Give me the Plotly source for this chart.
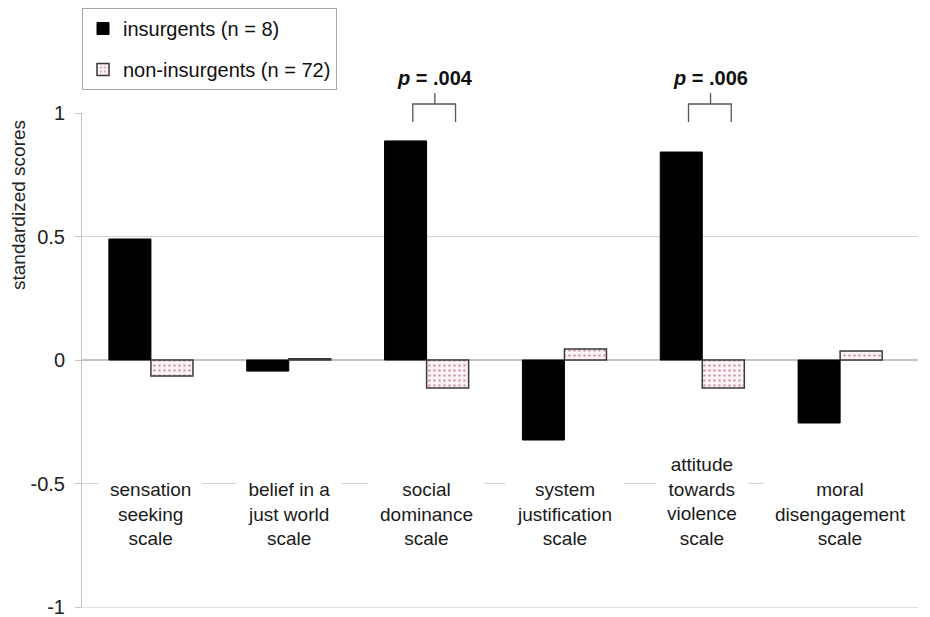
import plotly.graph_objects as go

categories = [
    "sensation<br>seeking<br>scale",
    "belief in a<br>just world<br>scale",
    "social<br>dominance<br>scale",
    "system<br>justification<br>scale",
    "attitude<br>towards<br>violence<br>scale",
    "moral<br>disengagement<br>scale",
]
insurgents = [0.49, -0.045, 0.887, -0.324, 0.842, -0.255]
non_insurgents = [-0.065, 0.005, -0.113, 0.045, -0.113, 0.036]
series_names = ["insurgents (n = 8)", "non-insurgents (n = 72)"]
p_labels = {2: ".004", 4: ".006"}
yticks = [-1, -0.5, 0, 0.5, 1]
ytick_text = ["-1", "-0.5", "0", "0.5", "1"]

FONT = "Liberation Sans, Arial, sans-serif"
x_idx = list(range(len(categories)))
n = len(categories)
XR = [-0.5, n - 0.5 + 0.065]

# page body has an 8px margin, so the figure is drawn 8px in from the window edge
W, H = 922, 609
ML, MR, MT, MB = 74, 12, 105, 10
PW = W - ML - MR   # 836
PH = H - MT - MB   # 494


def xpaper(v):
    return (v - XR[0]) / (XR[1] - XR[0])


def ypx(py):
    """screen pixel row (in the 930x617 window) -> paper y"""
    return (H - MB - (py - 8)) / PH


def xpx(px):
    return (px - 8 - ML) / PW


fig = go.Figure()
fig.add_trace(go.Bar(
    x=x_idx, y=insurgents, name=series_names[0], legendgroup="a",
    marker=dict(color="#000000", line=dict(color="#000000", width=1)),
))
fig.add_trace(go.Bar(
    x=x_idx, y=non_insurgents, name=series_names[1], legendgroup="b",
    marker=dict(color="#fdf3f6", line=dict(color="#3a3a3a", width=1.5),
                pattern=dict(shape=".", fgcolor="#a0506e", bgcolor="#fdf3f6",
                             size=5, solidity=0.22)),
))

# category labels
for i, lab in enumerate(categories):
    fig.add_annotation(
        x=i, y=-0.814, xref="x", yref="y", text=lab, showarrow=False,
        yanchor="bottom", xanchor="center", align="center",
        font=dict(family=FONT, size=19, color="#1a1a1a"),
        bgcolor="white", borderpad=11,
    )

# significance brackets
for i, p in p_labels.items():
    xl, xr, xs = xpaper(i - 0.10), xpaper(i + 0.21), xpaper(i + 0.06)
    yb, yt, ys = ypx(122), ypx(104), ypx(93)
    fig.add_shape(type="path", xref="paper", yref="paper",
                  path=f"M {xl} {yb} L {xl} {yt} L {xr} {yt} L {xr} {yb}",
                  line=dict(color="#555555", width=1.3))
    fig.add_shape(type="line", xref="paper", yref="paper",
                  x0=xs, x1=xs, y0=yt, y1=ys,
                  line=dict(color="#555555", width=1.3))
    fig.add_annotation(x=xs, y=ypx(78), xref="paper", yref="paper",
                       text=f"<b><i>p</i> = {p}</b>", showarrow=False,
                       xanchor="center", yanchor="middle",
                       font=dict(family=FONT, size=20, color="#111111"))

# y-axis title
fig.add_annotation(x=xpx(18), y=ypx(205), xref="paper", yref="paper",
                   text="standardized scores", textangle=-90, showarrow=False,
                   xanchor="center", yanchor="middle",
                   font=dict(family=FONT, size=19, color="#222222"))

fig.update_layout(
    width=W, height=H,
    margin=dict(l=ML, r=MR, t=MT, b=MB, autoexpand=False),
    plot_bgcolor="white", paper_bgcolor="white",
    barmode="group", bargap=0.39, bargroupgap=0,
    font=dict(family=FONT, size=20, color="#222222"),
    showlegend=True,
    legend=dict(x=xpx(82), y=ypx(8), xanchor="left", yanchor="top",
                bgcolor="white", bordercolor="#a8a8a8", borderwidth=1,
                tracegroupgap=12, font=dict(family=FONT, size=20, color="#111111")),
    xaxis=dict(range=XR, showticklabels=False, showgrid=False,
               zeroline=False, showline=True, linecolor="#e2e2e2", linewidth=1,
               ticks=""),
    yaxis=dict(range=[-1, 1], tickvals=yticks, ticktext=ytick_text,
               showgrid=True, gridcolor="#d4d4d4", gridwidth=1,
               zeroline=True, zerolinecolor="#c4c4c4", zerolinewidth=1.5,
               showline=True, linecolor="#c4c4c4", linewidth=1,
               ticks="outside", ticklen=6, tickcolor="#c4c4c4",
               ticklabelstandoff=6, ticklabeloverflow="allow",
               tickfont=dict(family=FONT, size=20, color="#222222")),
)

fig.write_html("out.html")
